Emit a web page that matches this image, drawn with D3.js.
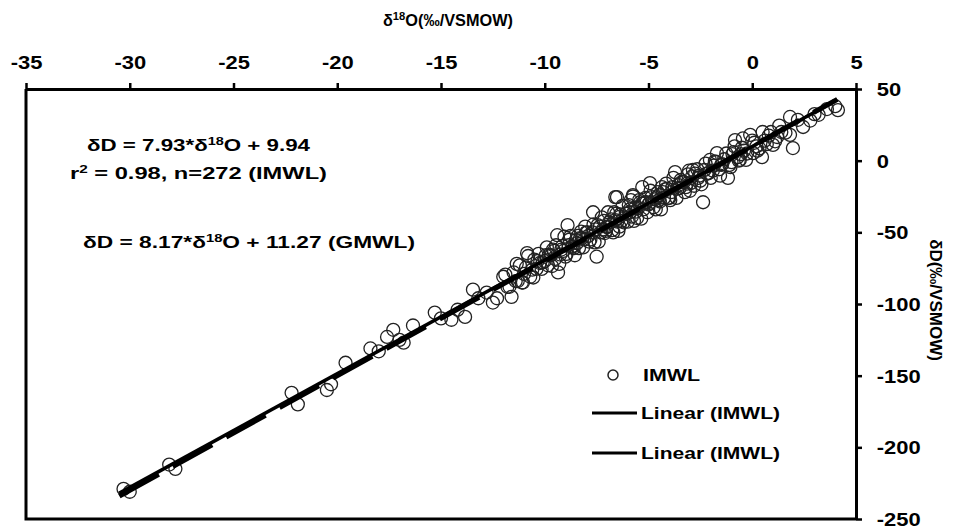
<!DOCTYPE html>
<html>
<head>
<meta charset="utf-8">
<script src="https://cdn.jsdelivr.net/npm/d3@7"></script>
<style>
  body { margin: 0; background: #fff; }
  svg { font-family: "Liberation Sans", Arial, sans-serif; }
</style>
</head>
<body>
<script>
// values (permil vs VSMOW)
const d18O = [
  -30.3, -30.0, -28.1, -27.8, -22.2, -21.9, -20.5, -20.3, -19.6, -18.4,
  -18.0, -17.6, -17.3, -17.0, -16.8, -16.35, -15.3, -15.0, -14.5, -14.2,
  -13.84, -13.46, -13.2, -12.8, -12.5, -12.3, -12.0, -11.8, -11.6, -11.4,
  -11.05, -10.85, -10.6, -10.23, -10.0, -9.8, -9.6, -9.4, -9.36, -9.1,
  -8.9, -8.7, -8.45, -8.2, -8.0, -7.67, -7.5, -7.34, -7.2, -7.0,
  -6.8, -6.6, -6.52, -6.4, -6.37, -6.1, -5.9, -5.75, -5.75, -5.5,
  -5.3, -5.1, -4.93, -4.7, -4.5, -4.2, -4.0, -3.72, -3.5, -3.3,
  -3.0, -2.86, -2.6, -2.37, -2.2, -2.04, -1.9, -1.7, -1.5, -1.17,
  -1.0, -0.83, -0.6, -0.4, -0.1, 0.04, 0.2, 0.47, 0.6, 1.0,
  1.4, 1.82, 1.82, 1.96, 2.45, 2.8, 3.2, 3.6, 4.13, 4.0,
  -11.5, -11.3, -11.2, -11.0, -10.9, -10.7, -10.5, -10.4, -10.3, -10.1,
  -9.95, -9.85, -9.7, -9.5, -9.45, -9.25, -9.15, -9.0, -8.85, -8.8,
  -8.6, -8.5, -8.35, -8.25, -8.1, -7.95, -7.85, -7.7, -7.6, -7.45,
  -7.3, -7.15, -7.05, -6.9, -6.75, -6.65, -6.5, -6.35, -6.2, -6.05,
  -5.95, -5.8, -5.65, -5.55, -5.4, -5.25, -5.15, -5.0, -4.85, -4.75,
  -4.6, -4.45, -4.35, -4.25, -4.1, -3.95, -3.85, -3.6, -3.45, -3.2,
  -3.1, -2.95, -2.75, -2.5, -2.3, -2.1, -1.8, -1.6, -1.35, -1.1,
  -0.9, -0.7, -0.5, -0.25, 0.1, 0.35, 0.8, 1.2, 2.2, 3.0,
  -11.9, -11.7, -11.35, -11.1, -10.8, -10.55, -10.35, -10.15, -9.9, -9.65,
  -9.55, -9.3, -9.05, -8.95, -8.75, -8.55, -8.4, -8.15, -8.05, -7.8,
  -7.65, -7.4, -7.25, -7.1, -6.95, -6.7, -6.55, -6.45, -6.25, -6.0,
  -5.85, -5.7, -5.45, -5.35, -5.2, -5.05, -4.9, -4.65, -4.55, -4.4,
  -4.15, -4.05, -3.8, -3.65, -3.4, -3.25, -3.05, -2.8, -2.65, -2.45,
  -2.25, -2.0, -1.75, -1.55, -1.25, -1.05, -0.85, -0.65, -0.45, -0.3,
  0.0, 0.25, 0.5, 0.7, 0.9, 1.1, 1.3, 1.6,
  -9.2, -8.65, -8.3, -7.9, -7.55, -7.0, -6.6, -6.3, -5.9, -5.6,
  -5.3, -4.95, -4.5, -4.3, -3.9, -3.55, -3.15, -2.9, -2.55, -2.15,
  -1.85, -1.45, -0.95, -0.55
];
const dD = [
  -229, -231, -212, -215, -162, -170, -160, -156, -141, -131,
  -133, -123, -118, -125, -127, -115, -106, -110, -111, -104,
  -109, -90, -96, -92, -99, -96, -81, -88, -95, -84,
  -85, -64.5, -76, -71.4, -70, -66, -62, -52, -78, -63,
  -45, -60, -57.5, -54, -50, -36, -67, -46, -48, -46,
  -41, -25.4, -25.4, -46, -39, -37, -34, -24, -25, -33,
  -18.4, -29, -15.6, -27, -24, -20, -26, -8, -19, -15,
  -21, -6.5, -12, -29, -9, 0.5, -7, 5.3, -3, -12,
  -1, 14.4, 0.5, 7, 18, 5.3, 10, 2.5, 14, 11,
  20, 18, 30.5, 8.8, 23.5, 28, 32, 36, 35.3, 38,
  -78, -84, -73, -79, -74.5, -81, -69, -75.5, -65, -71,
  -66, -73, -66, -68.5, -59, -65.5, -59.5, -67, -59, -55,
  -61, -55.5, -61, -49.5, -55, -50, -56.5, -50, -57, -45,
  -50, -42, -49, -43, -48.5, -36, -42.5, -37.5, -43, -37,
  -31, -39, -33, -40, -29, -34, -26, -30.5, -25.5, -32.5,
  -25.5, -28.5, -18.5, -26, -19.5, -27.5, -18.5, -19.5, -13.5, -18.5,
  -9.5, -15.5, -9, -14, -6.5, -8.5, -0.5, -6, 1, -3,
  6, 2.5, 9, 5, 12.5, 8.5, 17.5, 16.5, 28.5, 32.5,
  -79.5, -88, -72, -85, -66.5, -81.5, -70, -75.5, -60.5, -73.5,
  -63, -72, -53, -65, -52.5, -66, -52.5, -60.5, -46, -55,
  -44.5, -56.5, -39.5, -50.5, -36, -50, -37, -49, -31.5, -42.5,
  -27.5, -42, -27.5, -40.5, -29.5, -36, -21, -34, -22, -34,
  -16, -26, -12, -26, -15, -22, -7, -17.5, -6, -16.5,
  -2, -12, -1, -10.5, 5, -4.5, 10, 0, 15.5, 0.5,
  14, 7, 20, 11.5, 20, 13.5, 24.5, 19.5,
  -62, -60, -54, -52.5, -48, -46.5, -41.5, -42, -36, -35.5,
  -30, -29.5, -27.5, -22, -22, -17, -16, -11, -10.5, -9,
  -3.5, -2.5, 4.5, 4.5
];

// regression lines as drawn (legend calls both "Linear (IMWL)")
const fitSlopes = [7.93, 8.0];
const fitIntercepts = [9.94, 10.0];
const fitRange = [-30.5, 4.1];

const xTicks = [-35, -30, -25, -20, -15, -10, -5, 0, 5];
const yTicks = [50, 0, -50, -100, -150, -200, -250];

const width = 964;
const height = 529;
const plot = { left: 26, right: 856, top: 89, bottom: 519 };
const stretch = 1.22; // the picture's text looks wide

const svg = d3.select("body")
  .append("svg")
  .attr("width", width)
  .attr("height", height);

const x = d3.scaleLinear().domain([-35, 5]).range([plot.left, plot.right]);
const y = d3.scaleLinear().domain([-250, 50]).range([plot.bottom, plot.top]);

// frame: left and bottom sides (top and right come from the axes)
svg.append("path")
  .attr("d", `M${plot.left},${plot.top} V${plot.bottom} H${plot.right}`)
  .attr("fill", "none")
  .attr("stroke", "#000")
  .attr("stroke-width", 3);

// data points
const points = d18O.map((v, i) => ({ x: v, y: dD[i] }));
svg.append("g")
  .selectAll("circle")
  .data(points)
  .join("circle")
  .attr("cx", (d) => x(d.x))
  .attr("cy", (d) => y(d.y))
  .attr("r", 6.5)
  .attr("fill", "none")
  .attr("stroke", "#222")
  .attr("stroke-width", 1.3);

// fitted lines, second one dashed
const line = d3.line().x((d) => x(d[0])).y((d) => y(d[1]));
fitSlopes.forEach((m, i) => {
  const pts = fitRange.map((v) => [v, m * v + fitIntercepts[i]]);
  svg.append("path")
    .attr("d", line(pts))
    .attr("fill", "none")
    .attr("stroke", "#000")
    .attr("stroke-width", i === 0 ? 3.5 : 5)
    .attr("stroke-dasharray", i === 0 ? null : "45,16");
});

// top axis
const xAxis = svg.append("g")
  .attr("transform", `translate(0,${plot.top})`)
  .call(d3.axisTop(x).tickValues(xTicks).tickFormat((d) => String(d))
    .tickSize(6).tickPadding(14).tickSizeOuter(0));

// right axis
const yAxis = svg.append("g")
  .attr("transform", `translate(${plot.right},0)`)
  .call(d3.axisRight(y).tickValues(yTicks).tickFormat((d) => String(d))
    .tickSize(6).tickPadding(11).tickSizeOuter(0));

[xAxis, yAxis].forEach((g) => {
  g.select(".domain").attr("stroke", "#000").attr("stroke-width", 3);
  g.selectAll(".tick line").attr("stroke", "#000").attr("stroke-width", 2.5);
  g.selectAll(".tick text")
    .attr("fill", "#000")
    .attr("font-size", "18px")
    .attr("font-weight", "bold")
    .attr("font-family", "Liberation Sans, Arial, sans-serif")
    .attr("transform", `scale(${stretch},1)`);
});
yAxis.selectAll(".tick text").attr("dy", "0.36em");

// axis titles
const xTitle = svg.append("text")
  .attr("x", 448)
  .attr("y", 26)
  .attr("text-anchor", "middle")
  .attr("font-size", "16px")
  .attr("font-weight", "bold")
  .attr("textLength", 130)
  .attr("lengthAdjust", "spacingAndGlyphs");
xTitle.append("tspan").text("δ");
xTitle.append("tspan").attr("font-size", "11px").attr("dy", -6).text("18");
xTitle.append("tspan").attr("dy", 6).text("O(‰/VSMOW)");

svg.append("text")
  .attr("transform", "translate(930,300) rotate(90)")
  .attr("text-anchor", "middle")
  .attr("font-size", "17px")
  .attr("font-weight", "bold")
  .text("δD(‰/VSMOW)");

// equations
function equation(tx, ty, len, parts) {
  const t = svg.append("text")
    .attr("x", tx)
    .attr("y", ty)
    .attr("font-size", "17px")
    .attr("font-weight", "bold")
    .attr("textLength", len)
    .attr("lengthAdjust", "spacingAndGlyphs");
  parts.forEach((p) => {
    const s = t.append("tspan").text(p[0]);
    if (p[1] === "sup") s.attr("font-size", "11px").attr("dy", -6);
    if (p[1] === "down") s.attr("dy", 6);
  });
}
equation(87, 151, 223, [["δD = 7.93*δ"], ["18", "sup"], ["O + 9.94", "down"]]);
equation(70, 179, 257, [["r"], ["2", "sup"], [" = 0.98,  n=272 (IMWL)", "down"]]);
equation(83, 248, 332, [["δD = 8.17*δ"], ["18", "sup"], ["O + 11.27 (GMWL)", "down"]]);

// legend
const legendLabels = ["IMWL", "Linear (IMWL)", "Linear (IMWL)"];
const legendWidths = [57, 139, 139];
const legendY = [375, 413, 453];
legendLabels.forEach((lab, i) => {
  if (i === 0) {
    svg.append("circle")
      .attr("cx", 613).attr("cy", legendY[i]).attr("r", 5)
      .attr("fill", "none").attr("stroke", "#222").attr("stroke-width", 1.5);
  } else {
    svg.append("line")
      .attr("x1", 592).attr("x2", 637)
      .attr("y1", legendY[i]).attr("y2", legendY[i])
      .attr("stroke", "#000").attr("stroke-width", 3);
  }
  svg.append("text")
    .attr("x", i === 0 ? 643 : 641)
    .attr("y", legendY[i] + 6)
    .attr("font-size", "17px")
    .attr("font-weight", "bold")
    .attr("textLength", legendWidths[i])
    .attr("lengthAdjust", "spacingAndGlyphs")
    .text(lab);
});
</script>
</body>
</html>
